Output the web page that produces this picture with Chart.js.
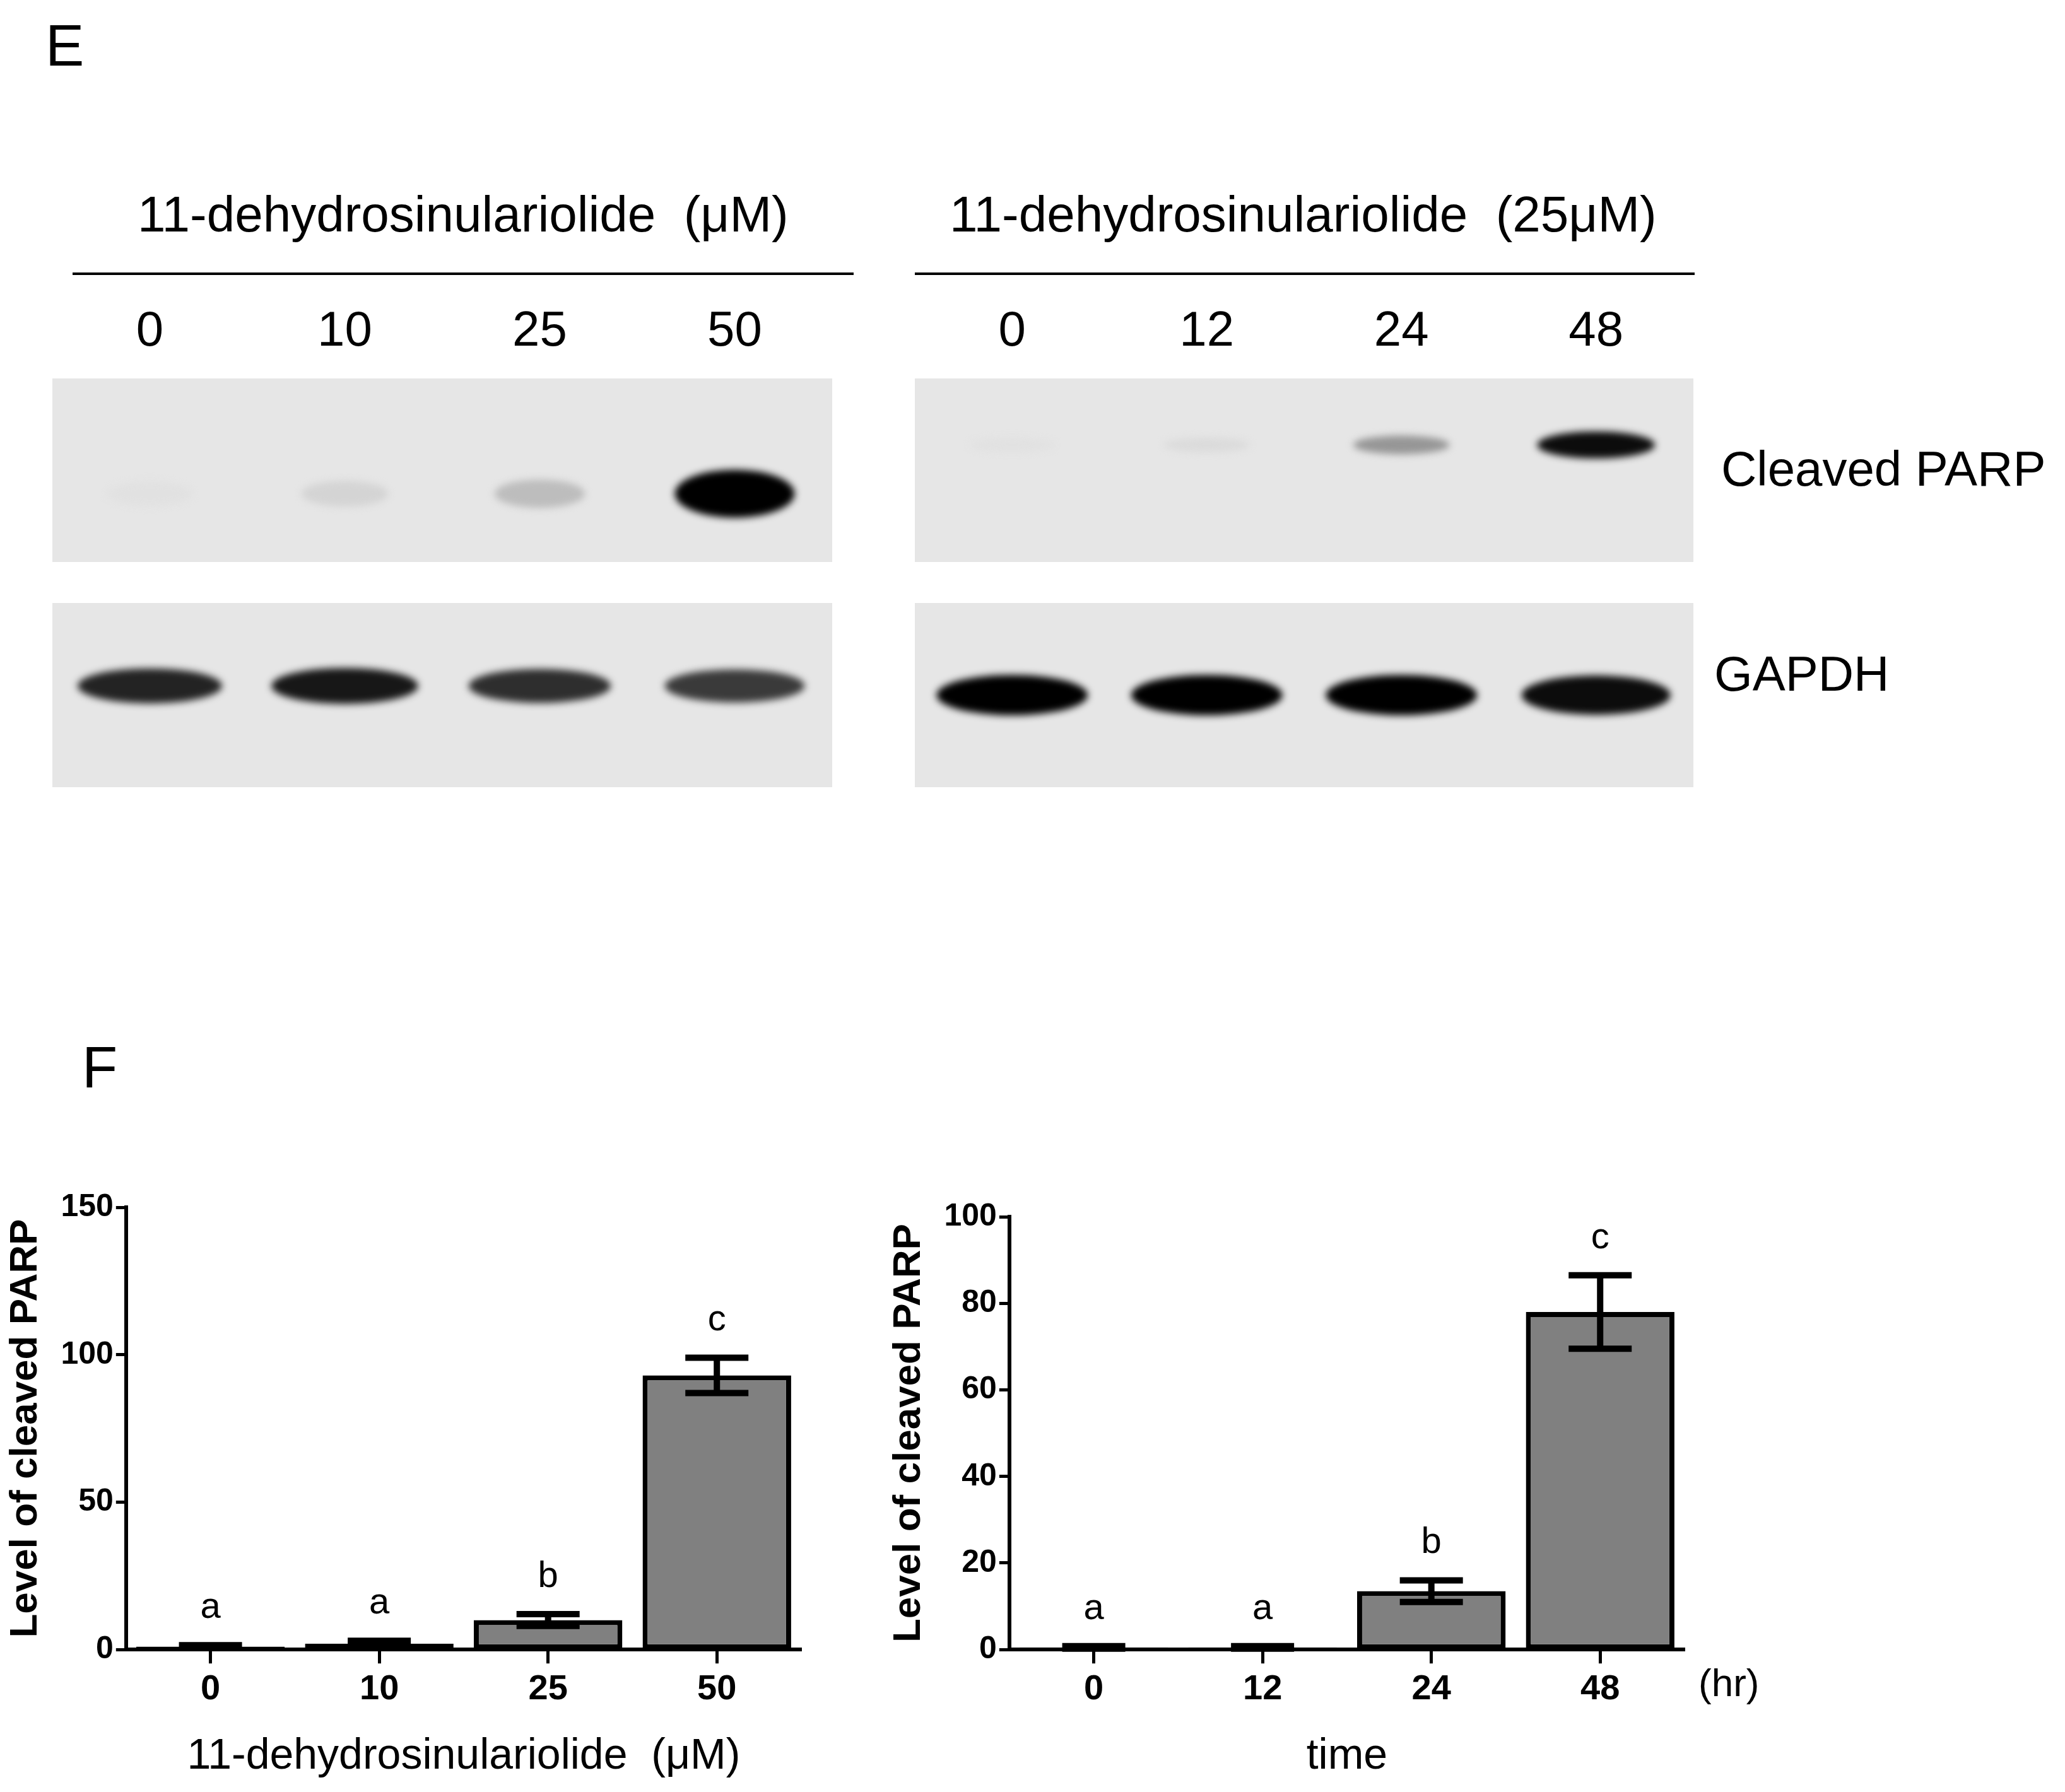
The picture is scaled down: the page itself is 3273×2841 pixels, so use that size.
<!DOCTYPE html>
<html><head><meta charset="utf-8">
<script src="https://cdn.jsdelivr.net/npm/chart.js@4"></script>
<style>
body{margin:0;width:3273px;height:2841px;background:#fff;position:relative;overflow:hidden;font-family:"Liberation Sans",Arial,sans-serif;}
.t{position:absolute;white-space:nowrap;color:#000;}
.c{position:absolute;}
.hl{position:absolute;height:4px;background:#000;}
</style></head><body>
<script>
// ---- data ----
const doseLabels = ['0','10','25','50'];
const timeLabels = ['0','12','24','48'];
const doseValues = [1, 2, 10, 93];
const doseErrors = [0.5, 1, 2, 6];
const doseLetters = ['a','a','b','c'];
const timeValues = [0.5, 0.5, 13.5, 78];
const timeErrors = [0.3, 0.3, 2.5, 8.5];
const timeLetters = ['a','a','b','c'];
const doseTicks = [0, 50, 100, 150];
const timeTicks = [0, 20, 40, 60, 80, 100];
// blot band intensities (0..1)
const doseParpBands = [0.02, 0.08, 0.18, 1.0];
const doseGapdhBands = [0.85, 0.9, 0.8, 0.75];
const timeParpBands = [0.02, 0.05, 0.35, 0.95];
const timeGapdhBands = [1.0, 1.0, 1.0, 0.95];
</script>

<div class="t" style="left:72px;top:20px;font-size:92px;">E</div>
<div class="t" style="left:130px;top:1640px;font-size:92px;">F</div>

<div class="t" style="left:218px;top:294px;font-size:80px;">11-dehydrosinulariolide&nbsp;&nbsp;(μM)</div>
<div class="hl" style="left:115px;width:1238px;top:432px;"></div>
<div class="t" style="left:1505px;top:294px;font-size:80px;">11-dehydrosinulariolide&nbsp;&nbsp;(25μM)</div>
<div class="hl" style="left:1450px;width:1236px;top:432px;"></div>
<div class="t" style="left:2728px;top:698px;font-size:78px;">Cleaved PARP</div>
<div class="t" style="left:2717px;top:1023px;font-size:78px;">GAPDH</div>
<div class="t" style="left:2692px;top:2632px;font-size:62px;">(hr)</div>

<div class="c" style="left:83px;top:480px;width:1236px;height:411px;"><canvas id="b1"></canvas></div>
<div class="c" style="left:83px;top:956px;width:1236px;height:292px;"><canvas id="b2"></canvas></div>
<div class="c" style="left:1450px;top:480px;width:1234px;height:411px;"><canvas id="b3"></canvas></div>
<div class="c" style="left:1450px;top:956px;width:1234px;height:292px;"><canvas id="b4"></canvas></div>

<div class="c" style="left:0px;top:1880px;width:1290px;height:950px;"><canvas id="c1"></canvas></div>
<div class="c" style="left:1400px;top:1895px;width:1290px;height:935px;"><canvas id="c2"></canvas></div>

<script>
const FONT = '"Liberation Sans", Arial, sans-serif';
const blotPlugin = {
  id:'blot',
  beforeDatasetsDraw(chart, args, opts){
    const {ctx, chartArea:a} = chart;
    const xs = chart.scales.x;
    ctx.save();
    ctx.fillStyle = opts.bg;
    const top = opts.top ?? a.top;
    ctx.fillRect(a.left, top, a.right-a.left, a.bottom-top);
    const ys = chart.scales.y;
    const yc = ys.getPixelForValue(opts.bandY);
    const bands = chart.data.datasets[0].data;
    ctx.filter = 'blur(6px)';
    bands.forEach((v,i)=>{
      const x = xs.getPixelForValue(i);
      const g = Math.round(230*(1-v));
      ctx.fillStyle = `rgb(${g},${g},${g})`;
      ctx.beginPath();
      ctx.ellipse(x, yc, opts.w*(0.7+0.3*v), opts.h*(0.5+0.5*v), 0, 0, Math.PI*2);
      ctx.fill();
    });
    ctx.restore();
  }
};
function blot(id, labels, bands, bandY, w, h, labelsShown){
  new Chart(document.getElementById(id), {
    type:'bar',
    data:{labels, datasets:[{data:bands, backgroundColor:'rgba(0,0,0,0)'}]},
    options:{responsive:true, maintainAspectRatio:false, animation:false,
      plugins:{legend:{display:false}, tooltip:{enabled:false},
        blot:{bg:'#e6e6e6', bandY, w, h, top: labelsShown?120:undefined}},
      scales:{
        x:{display:labelsShown, position:'top', grid:{display:false}, border:{display:false},
           ticks:{font:{family:FONT,size:78}, color:'#000', padding:0}},
        y:{display:false, min:0, max:1}}
    },
    plugins:[blotPlugin]
  });
}
blot('b1', doseLabels, doseParpBands, 0.35, 95, 38, true);
blot('b2', doseLabels, doseGapdhBands, 0.55, 120, 30, false);
blot('b3', timeLabels, timeParpBands, 0.6, 95, 22, true);
blot('b4', timeLabels, timeGapdhBands, 0.5, 120, 32, false);

const annotPlugin = {
  id:'annot',
  afterDatasetsDraw(chart, args, opts){
    const {ctx} = chart;
    const xs = chart.scales.x, ys = chart.scales.y;
    const ds = chart.data.datasets[0];
    ctx.save();
    ctx.strokeStyle = '#000'; ctx.lineWidth = 10; ctx.lineCap='butt';
    ctx.fillStyle='#000';
    ctx.font = `58px ${FONT}`; ctx.textAlign='center'; ctx.textBaseline='bottom';
    ds.data.forEach((v,i)=>{
      const x = xs.getPixelForValue(i);
      const e = opts.errors[i];
      const yt = ys.getPixelForValue(v+e), yb = ys.getPixelForValue(Math.max(0,v-e));
      ctx.beginPath();
      ctx.moveTo(x,yt); ctx.lineTo(x,yb);
      ctx.moveTo(x-50,yt); ctx.lineTo(x+50,yt);
      ctx.moveTo(x-50,yb); ctx.lineTo(x+50,yb);
      ctx.stroke();
      ctx.fillText(opts.letters[i], x, yt-30);
    });
    ctx.restore();
  }
};
function barChart(id, labels, values, errors, letters, ticks, xTitle){
  const max = ticks[ticks.length-1];
  new Chart(document.getElementById(id), {
    type:'bar',
    data:{labels, datasets:[{data:values, backgroundColor:'#808080', borderColor:'#000', borderWidth:8, borderSkipped:false, categoryPercentage:0.88, barPercentage:1}]},
    options:{responsive:true, maintainAspectRatio:false, animation:false,
      layout:{padding:{top:30,right:20}},
      plugins:{legend:{display:false}, tooltip:{enabled:false}, annot:{errors, letters}},
      scales:{
        x:{grid:{display:true, offset:false, drawOnChartArea:false, tickLength:22, tickWidth:5, color:'#000'},
           border:{color:'#000', width:6},
           ticks:{font:{family:FONT,size:56,weight:'bold'}, color:'#000', padding:8},
           title:{display:true, text:xTitle, font:{family:FONT,size:68}, color:'#000', padding:{top:24}}},
        y:{min:0, max, afterBuildTicks(ax){ax.ticks = ticks.map(v=>({value:v}));},
           grid:{display:true, drawOnChartArea:false, tickLength:16, tickWidth:5, color:'#000'},
           border:{color:'#000', width:6},
           ticks:{font:{family:FONT,size:50,weight:'bold'}, color:'#000', padding:4},
           title:{display:true, text:'Level of cleaved PARP', font:{family:FONT,size:62,weight:'bold'}, color:'#000', padding:{bottom:14}}}
      }
    },
    plugins:[annotPlugin]
  });
}
barChart('c1', doseLabels, doseValues, doseErrors, doseLetters, doseTicks, '11-dehydrosinulariolide  (μM)');
barChart('c2', timeLabels, timeValues, timeErrors, timeLetters, timeTicks, 'time');
</script>
</body></html>
